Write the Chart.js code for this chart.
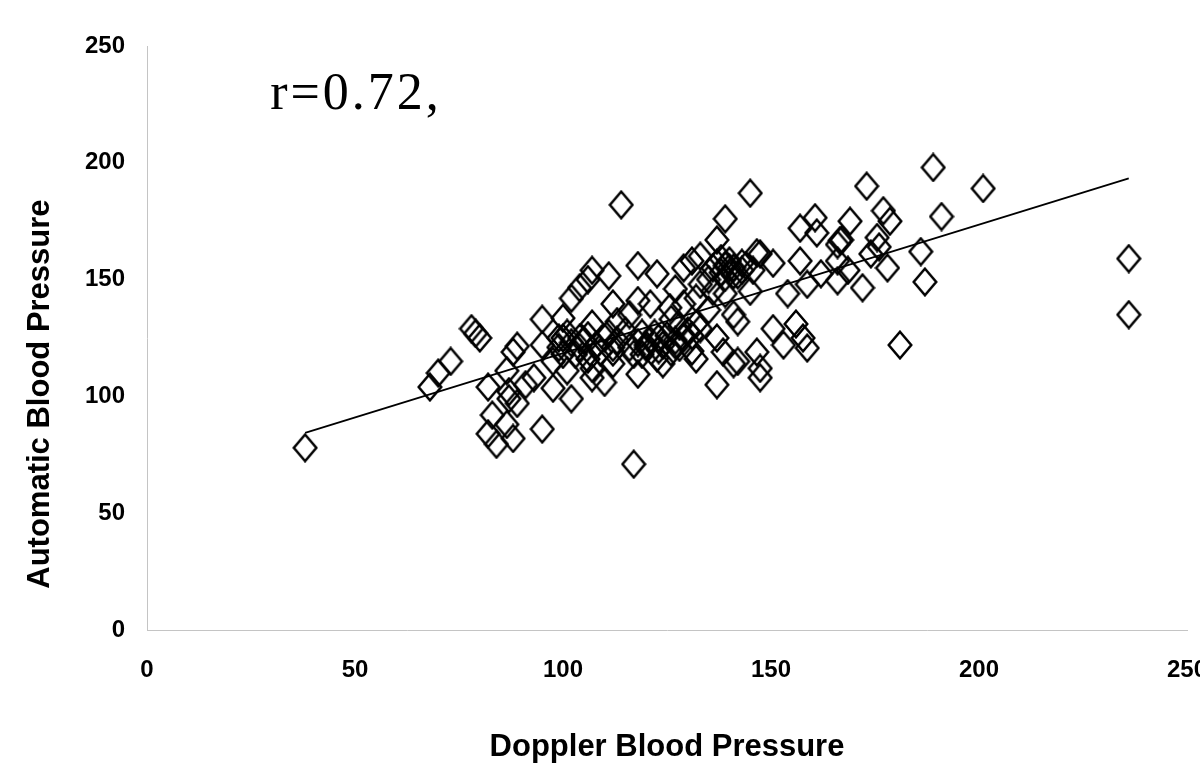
<!DOCTYPE html>
<html><head><meta charset="utf-8">
<script src="https://cdn.jsdelivr.net/npm/chart.js@4/dist/chart.umd.min.js"></script>
<style>html,body{margin:0;padding:0;background:#fff;} #wrap{width:1200px;height:768px;position:relative;}</style>
</head><body><div id="wrap"><canvas id="c" width="1200" height="768"></canvas></div>
<script>
// Doppler (x) and automatic (y) blood pressure readings
const dopplerBP = [38,236,236,201,189,173,191,114,145,139,117,181,187,186,
68,70,73,78,80,79,82,83,82,84,88,86.5,95,
88,89,86.5,87,91,93,87,89,
95,95,97.6,97.6,102,101,
102,104,106,107,
100,99,104,106.5,107,107,106,
137,118,122.6,111,129,131,133,
137,140,142,135,139,140,141,143,138,
112,118,121,125.7,129,132,141,132,
112,117,120,123,127,131,132,137,138.5,142,137,
107,118,112,122.6,124,
160.6,157,167,146.6,150.5,145.7,158.7,154,150.5,156,157.7,158.7,153,146.6,147.4,141,142,145,139,
169,177,178.6,175.5,166.6,166,157,178,166,172,162,147.4,147.4,
100,102,104,105,108,110,112,118,120,121,123,125,127,130,133,110,
115,119,128,126,135,136,133,127,113,116,
161,176,174,166,168.5,
99,101,103,106,109,111,113,100,
116,119,122,124,126,129,128,131,
136,138,141,143,139,144];
const automaticBP = [78,159,135,189,198,190,177,182,187,176,71,122,149,162,
104,110,115,129,125,127,104,92,84,79.5,82,88,86,
119,121.5,111,102,105,108,99,97,
133,122,115,103.5,99,111,
142,146.5,150,154,
133.5,125,125,119,108,131,116,
167,156,152.5,151.6,155,158,160,
157,155,152,150,156,158,155,154,153,
139.6,141,139.6,138,139.6,142,135,131,
119,118,122,125,122,119.4,116,125,119,115,105,
112,109.5,114,116.5,114,
176.5,172,167,161.5,157,154,148,144,129,131,125,120.7,122,119,108,114,132,145,144,
175,179.5,175,168,166.7,158,158,155,149.5,146.5,152.5,161,112,
125,123,121,124,122,125,121,123,121,124,120,126,124,128,129,106,
128,127,130,133,137,145,148,146,132,135,
170,164,161,165,154,
121,127,118,126,119,127,124,118,
121,118,127,122,119,125,121,126,
155,159,152,157,151,156];
// regression line end points
const trendX = [38, 236];
const trendY = [84.4, 193.3];
// axis ticks
const xTicks = [0, 50, 100, 150, 200, 250];
const yTicks = [0, 50, 100, 150, 200, 250];
const xTitle = 'Doppler Blood Pressure';
const yTitle = 'Automatic Blood Pressure';
const rText = 'r=0.72,';

function diamond(w, h, lw) {
  const c = document.createElement('canvas');
  c.width = w; c.height = h;
  const g = c.getContext('2d');
  g.lineWidth = lw; g.strokeStyle = '#000'; g.lineJoin = 'miter';
  const m = lw / 2 + 0.5;
  g.beginPath();
  g.moveTo(w / 2, m); g.lineTo(w - m, h / 2); g.lineTo(w / 2, h - m); g.lineTo(m, h / 2);
  g.closePath(); g.stroke();
  return c;
}
const marker = diamond(26, 30, 2.5);

const fam = "'Liberation Sans Narrow','Arial Narrow','Liberation Sans',Arial,sans-serif";
const tickFont = {family: fam, size: 24, weight: 'bold'};
const titleFont = {family: fam, size: 31, weight: 'bold'};

const textPlugin = {
  id: 'extraText',
  afterDatasetsDraw(chart, args, opts) {
    const {ctx, scales: {x, y}} = chart;
    // correlation label
    ctx.save();
    ctx.font = opts.rFont;
    if ('letterSpacing' in ctx) ctx.letterSpacing = opts.rSpacing;
    ctx.fillStyle = '#000';
    ctx.textBaseline = 'alphabetic';
    ctx.textAlign = 'left';
    ctx.fillText(opts.rText, x.getPixelForValue(opts.rAt[0]), y.getPixelForValue(opts.rAt[1]));
    ctx.restore();
    // y axis title
    ctx.save();
    ctx.font = `bold ${titleFont.size}px ${fam}`;
    ctx.fillStyle = '#000';
    ctx.textAlign = 'center';
    ctx.textBaseline = 'middle';
    ctx.translate(y.left + opts.yTitleOffset, y.getPixelForValue(opts.yTitleCenter));
    ctx.rotate(-Math.PI / 2);
    ctx.fillText(opts.yTitle, 0, 0);
    ctx.restore();
  }
};

new Chart(document.getElementById('c'), {
  type: 'scatter',
  data: {
    datasets: [
      {
        type: 'line',
        data: trendX.map((v, i) => ({x: v, y: trendY[i]})),
        borderColor: '#000', borderWidth: 1.8, pointRadius: 0, fill: false, order: 0
      },
      {
        data: dopplerBP.map((v, i) => ({x: v, y: automaticBP[i]})),
        pointStyle: marker, pointRadius: 12, order: 1
      }
    ]
  },
  options: {
    responsive: false, animation: false,
    layout: {padding: {left: 0, right: 13, top: 46, bottom: 0}},
    plugins: {
      legend: {display: false}, tooltip: {enabled: false},
      extraText: {
        rText: rText, rAt: [29.6, 223], rSpacing: '3px', rFont: "52px 'Liberation Serif','Times New Roman',serif",
        yTitle: yTitle, yTitleOffset: 40, yTitleCenter: 101
      }
    },
    scales: {
      x: {
        type: 'linear', min: 0, max: 250,
        afterBuildTicks: s => { s.ticks = xTicks.map(v => ({value: v})); },
        afterFit: s => { s.height = 138; s.paddingLeft = 0; s.paddingRight = 0; },
        grid: {display: false},
        border: {display: true, color: '#c4c4c4', dash: [3, 4], width: 1},
        ticks: {color: '#000', font: tickFont, padding: 18},
        title: {display: true, text: xTitle, color: '#000', font: titleFont, padding: {top: 0, bottom: 2}}
      },
      y: {
        type: 'linear', min: 0, max: 250,
        afterBuildTicks: s => { s.ticks = yTicks.map(v => ({value: v})); },
        afterFit: s => { s.width = 147; s.paddingTop = 0; s.paddingBottom = 0; },
        grid: {display: false},
        border: {display: true, color: '#c4c4c4', dash: [3, 4], width: 1},
        ticks: {color: '#000', font: tickFont, padding: 14},
        title: {display: false}
      }
    }
  },
  plugins: [textPlugin]
});
</script></body></html>
